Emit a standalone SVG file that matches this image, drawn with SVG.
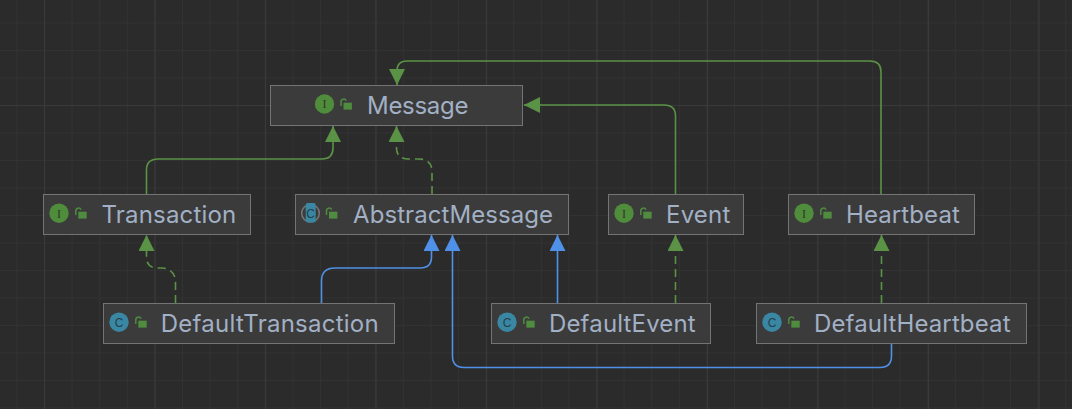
<svg xmlns="http://www.w3.org/2000/svg" width="1072" height="409" viewBox="0 0 1072 409">
<defs>
<pattern id="gm" width="27.6" height="27.5" patternUnits="userSpaceOnUse" x="16.4" y="50">
<path d="M0.5 0V27.5M0 0.5H27.6" fill="none" stroke="#323232" stroke-width="1"/>
</pattern>
<pattern id="gM" width="110.5" height="110" patternUnits="userSpaceOnUse" x="44" y="105">
<path d="M0.5 0V110M0 0.5H110.5" fill="none" stroke="#3a3a3a" stroke-width="1"/>
</pattern>
<g id="lock"><path d="M-6.700 0V-4a2.700 2.700 0 0 1 5.200-1.200" fill="none" stroke="#4f8c3f" stroke-width="1.500"/><rect x="-4.200" y="-3.300" width="8.400" height="6.900" fill="#4f8c3f"/></g>
<g id="ii"><circle r="9.700" fill="#4f8c3b"/><text class="ic" y="4.300" fill="#2b3a24">I</text></g>
<g id="ci"><circle r="9.700" fill="#3a87a3"/><text class="cc" y="4.300" fill="#24404c">C</text></g>
<marker id="ag" markerUnits="userSpaceOnUse" markerWidth="17" markerHeight="17" refX="16" refY="8" orient="auto"><path d="M0 0L16 8L0 16Z" fill="#5b9346"/></marker>
<marker id="ab" markerUnits="userSpaceOnUse" markerWidth="17" markerHeight="17" refX="16" refY="8" orient="auto"><path d="M0 0L16 8L0 16Z" fill="#4f91e8"/></marker>
</defs>
<style>
.n{fill:#3b3b3b;stroke:#747474;stroke-width:1}
.t{font-family:Inter,"Liberation Sans",sans-serif;font-size:24px;fill:#a2b0c5}
.ic{font-family:"Liberation Serif",serif;font-size:12px;text-anchor:middle}
.cc{font-family:"Liberation Sans",sans-serif;font-size:12px;text-anchor:middle}
.g{fill:none;stroke:#5b9346;stroke-width:1.600;marker-end:url(#ag)}
.b{fill:none;stroke:#4f91e8;stroke-width:1.600;marker-end:url(#ab)}
.d{stroke-dasharray:8 5}
</style>
<rect width="1072" height="409" fill="#2b2b2b"/>
<rect width="1072" height="409" fill="url(#gm)"/>
<rect width="1072" height="409" fill="url(#gM)"/>
<g id="connectors">
<path class="g" d="M881 194V72Q881 61 870 61H407Q397 61 397 71V85"/>
<path class="g" d="M675.500 194V116Q675.500 105 664 105H524"/>
<path class="g" d="M146.500 194V170Q146.500 159 158 159H322Q333 159 333 148V126"/>
<path class="g d" d="M432 194V172Q432 159 419 159H409Q396.500 159 396.500 148V126"/>
<path class="g d" d="M175.500 303V283Q175.500 269 162 268H158Q146.500 268 146.500 257V235"/>
<path class="g d" d="M675.500 303V235"/>
<path class="g d" d="M881.500 303V235"/>
<path class="b" d="M321.500 303V281Q321.500 268 335 268H420Q431.500 268 431.500 257V235"/>
<path class="b" d="M557.500 303V235"/>
<path class="b" d="M891.500 344V356Q891.500 367.500 880 367.500H464Q452.500 367.500 452.500 356V235"/>
</g>
<g id="message"><rect class="n" x="270.500" y="85.500" width="252" height="40"/><use href="#ii" x="324.500" y="104"/><use href="#lock" x="347.700" y="106"/><text class="t" x="367" y="114" letter-spacing="-0.300">Message</text></g>
<g id="transaction"><rect class="n" x="43.500" y="194.500" width="207" height="40"/><use href="#ii" x="59" y="213.200"/><use href="#lock" x="82.500" y="215"/><text class="t" x="101.500" y="223" letter-spacing="0.180">Transaction</text></g>
<g id="abstractmessage"><rect class="n" x="295.500" y="194.500" width="273" height="40"/><circle cx="310.500" cy="213.200" r="8.800" fill="#3b3b3b" stroke="#777" stroke-width="1.500"/><rect x="305.700" y="203" width="10" height="19.500" rx="2" fill="#3a87a3"/><text class="cc" x="310.700" y="217.500" fill="#24404c">C</text><use href="#lock" x="333.200" y="215"/><text class="t" x="353" y="223" letter-spacing="0.070">AbstractMessage</text></g>
<g id="event"><rect class="n" x="608.500" y="194.500" width="135" height="40"/><use href="#ii" x="624" y="213.200"/><use href="#lock" x="647.500" y="215"/><text class="t" x="666" y="223" letter-spacing="0.200">Event</text></g>
<g id="heartbeat"><rect class="n" x="788.500" y="194.500" width="186" height="40"/><use href="#ii" x="804" y="213.200"/><use href="#lock" x="827.500" y="215"/><text class="t" x="846" y="223" letter-spacing="0.100">Heartbeat</text></g>
<g id="defaulttransaction"><rect class="n" x="103.500" y="303.500" width="291" height="40"/><use href="#ci" x="119" y="322.200"/><use href="#lock" x="142.500" y="324"/><text class="t" x="160.800" y="332" letter-spacing="0.250">DefaultTransaction</text></g>
<g id="defaultevent"><rect class="n" x="491.500" y="303.500" width="219" height="40"/><use href="#ci" x="507" y="322.200"/><use href="#lock" x="530.500" y="324"/><text class="t" x="549" y="332" letter-spacing="0.150">DefaultEvent</text></g>
<g id="defaultheartbeat"><rect class="n" x="756.500" y="303.500" width="270" height="40"/><use href="#ci" x="772" y="322.200"/><use href="#lock" x="795.500" y="324"/><text class="t" x="814" y="332" letter-spacing="0.130">DefaultHeartbeat</text></g>
</svg>
